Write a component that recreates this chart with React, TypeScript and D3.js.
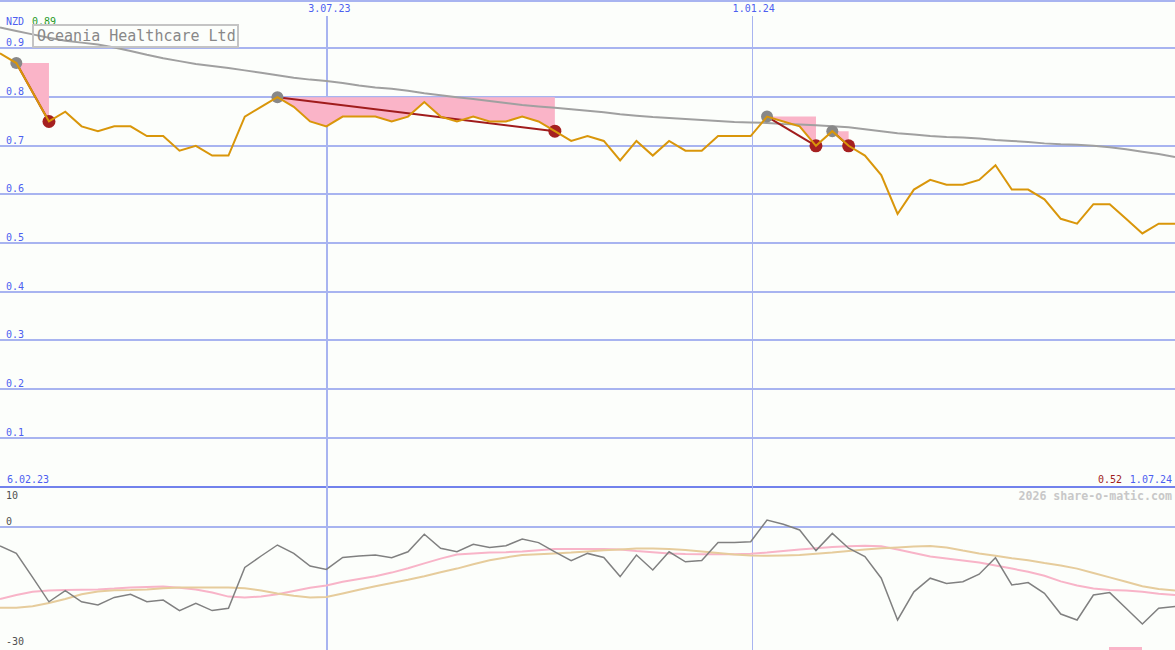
import React from "react";
import * as d3 from "d3";

// ---- data (weekly points, index 0..72) ----
const startLabel = "6.02.23";
const endLabel = "1.07.24";
const currency = "NZD";
const maxLabel = "0.89";
const minLabel = "0.52";
const title = "Oceania Healthcare Ltd";
const copyright = "2026 share-o-matic.com";

const dateMarkers = [
  { label: "3.07.23", index: 20, thick: true },
  { label: "1.01.24", index: 46, thick: false },
];

const price = [
  0.89, 0.87, 0.81, 0.75, 0.77, 0.74, 0.73, 0.74, 0.74, 0.72,
  0.72, 0.69, 0.70, 0.68, 0.68, 0.76, 0.78, 0.80, 0.78, 0.75,
  0.74, 0.76, 0.76, 0.76, 0.75, 0.76, 0.79, 0.76, 0.75, 0.76,
  0.75, 0.75, 0.76, 0.75, 0.73, 0.71, 0.72, 0.71, 0.67, 0.71,
  0.68, 0.71, 0.69, 0.69, 0.72, 0.72, 0.72, 0.76, 0.75, 0.74,
  0.70, 0.73, 0.70, 0.68, 0.64, 0.56, 0.61, 0.63, 0.62, 0.62,
  0.63, 0.66, 0.61, 0.61, 0.59, 0.55, 0.54, 0.58, 0.58, 0.55,
  0.52, 0.54, 0.54,
];

const longAverage = [
  0.943, 0.936, 0.929, 0.922, 0.916, 0.912, 0.908, 0.902, 0.895, 0.887,
  0.880, 0.874, 0.868, 0.864, 0.860, 0.855, 0.850, 0.845, 0.840, 0.836,
  0.833, 0.829, 0.824, 0.820, 0.817, 0.813, 0.808, 0.804, 0.800, 0.796,
  0.792, 0.788, 0.784, 0.781, 0.778, 0.775, 0.772, 0.769, 0.765, 0.762,
  0.759, 0.757, 0.755, 0.753, 0.751, 0.749, 0.748, 0.747, 0.745, 0.744,
  0.742, 0.740, 0.738, 0.734, 0.730, 0.726, 0.723, 0.720, 0.718, 0.717,
  0.715, 0.712, 0.710, 0.708, 0.705, 0.703, 0.702, 0.700, 0.697, 0.693,
  0.688, 0.683, 0.677,
];

// drawdown signals: from (gray marker) to (red marker)
const signals = [
  { from: 1, to: 3 },
  { from: 17, to: 34 },
  { from: 47, to: 50 },
  { from: 51, to: 52 },
];

const oscillator = [
  -4.75, -6.6, -12.6, -18.7, -15.9, -18.7, -19.5, -17.6, -16.8, -18.7,
  -18.25, -20.9, -19.1, -20.9, -20.3, -10.1, -7.25, -4.5, -6.6, -9.75,
  -10.6, -7.6, -7.25, -7.0, -7.7, -6.2, -1.8, -5.3, -6.2, -4.3,
  -5.1, -4.7, -3.0, -3.9, -6.2, -8.4, -6.6, -7.6, -12.4, -7.0,
  -10.75, -6.2, -8.7, -8.4, -3.9, -3.9, -3.7, 1.75, 0.7, -0.75,
  -5.9, -1.6, -5.3, -7.4, -12.8, -23.25, -16.2, -12.8, -14.1, -13.7,
  -11.8, -7.7, -14.5, -13.9, -16.6, -21.75, -23.25, -17.0, -16.4, -20.3,
  -24.25, -20.3, -19.9,
];

const oscPink = [
  -18, -17, -16.2, -15.9, -15.75, -15.7, -15.6, -15.4, -15.1, -15.0,
  -14.9, -15.2, -15.6, -16.4, -17.4, -17.6, -17.4, -16.8, -16.0, -15.2,
  -14.6, -13.7, -13.0, -12.3, -11.4, -10.3, -9.1, -7.9, -6.9, -6.6,
  -6.4, -6.3, -6.1, -5.8, -5.5, -5.5, -5.5, -5.5, -5.6, -6.0,
  -6.3, -6.6, -6.75, -6.8, -6.8, -6.8, -6.7, -6.4, -6.0, -5.6,
  -5.3, -5.0, -4.8, -4.7, -4.8, -5.6, -6.5, -7.4, -7.9, -8.4,
  -8.9, -9.6, -10.4, -11.2, -12.2, -13.6, -14.6, -15.4, -15.75, -15.9,
  -16.2, -16.7, -17,
];

const oscTan = [
  -20.2, -20.2, -19.8, -19.0, -18.0, -16.8, -16.1, -15.8, -15.75, -15.6,
  -15.3, -15.1, -15.1, -15.1, -15.1, -15.3, -15.9, -16.6, -17.2, -17.6,
  -17.5, -16.6, -15.7, -14.8, -14.0, -13.2, -12.3, -11.3, -10.4, -9.3,
  -8.3, -7.6, -7.0, -6.8, -6.6, -6.4, -6.1, -5.8, -5.6, -5.4,
  -5.4, -5.5, -5.75, -6.1, -6.5, -6.9, -7.1, -7.2, -7.1, -7.0,
  -6.7, -6.4, -6.0, -5.6, -5.3, -5.1, -4.9, -4.75, -5.1, -5.9,
  -6.6, -7.2, -7.8, -8.3, -9.0, -9.6, -10.4, -11.5, -12.6, -13.7,
  -14.8, -15.5, -15.9,
];

const mainTicks = [0.1, 0.2, 0.3, 0.4, 0.5, 0.6, 0.7, 0.8, 0.9];
const lowTicks = [10, 0, -30];

const W = 1175;
const H = 650;
const FONT = "'DejaVu Sans Mono', monospace";
const BLUE = "#4d5ff0";
const GRID = "#a8b4f0";

export default function App() {
  const x = d3.scaleLinear().domain([0, price.length - 1]).range([0, W]);
  const yMain = d3.scaleLinear().domain([0, 1]).range([486.5, -0.2]);
  const yLow = d3.scaleLinear().domain([-30, 10]).range([647, 487]);

  const mainLine = d3
    .line<number>()
    .x((_, i) => x(i))
    .y((d) => yMain(d));
  const lowLine = d3
    .line<number>()
    .x((_, i) => x(i))
    .y((d) => yLow(d));

  const idx = (a: number, b: number) => d3.range(a, b + 1);

  return (
    <svg
      width={W}
      height={H}
      style={{ position: "absolute", left: 0, top: 0, display: "block", background: "#fcfefb" }}
      fontFamily={FONT}
    >
      <rect x={0} y={0} width={W} height={H} fill="#fcfefb" />

      {/* main grid */}
      <line x1={0} x2={W} y1={1} y2={1} stroke={GRID} strokeWidth={2} shapeRendering="crispEdges" />
      {mainTicks.map((t) => (
        <line
          key={t}
          x1={0}
          x2={W}
          y1={Math.round(yMain(t))}
          y2={Math.round(yMain(t))}
          stroke={GRID}
          strokeWidth={2}
          shapeRendering="crispEdges"
        />
      ))}
      {/* lower grid */}
      <line
        x1={0}
        x2={W}
        y1={yLow(0)}
        y2={yLow(0)}
        stroke={GRID}
        strokeWidth={2}
        shapeRendering="crispEdges"
      />
      {/* separator */}
      <line x1={0} x2={W} y1={487} y2={487} stroke="#7282ec" strokeWidth={2} shapeRendering="crispEdges" />

      {/* date markers */}
      {dateMarkers.map((m) => (
        <g key={m.label}>
          <line
            x1={Math.round(x(m.index)) + 1}
            x2={Math.round(x(m.index)) + 1}
            y1={16}
            y2={H}
            stroke={GRID}
            strokeWidth={m.thick ? 2 : 1}
            shapeRendering="crispEdges"
          />
          <text x={x(m.index) + 3} y={12} fontSize={10} fill={BLUE} textAnchor="middle">
            {m.label}
          </text>
        </g>
      ))}

      {/* signal shading */}
      {signals.map((s, k) => {
        const level = price[s.from];
        const area = d3
          .area<number>()
          .x((i) => x(i))
          .y0(yMain(level))
          .y1((i) => yMain(price[i]));
        return <path key={k} d={area(idx(s.from, s.to)) || ""} fill="#fab4c8" />;
      })}

      {/* long average */}
      <path d={mainLine(longAverage) || ""} fill="none" stroke="#a0a0a0" strokeWidth={2} />

      {/* signal lines */}
      {signals.map((s, k) => (
        <line
          key={k}
          x1={x(s.from)}
          y1={yMain(price[s.from])}
          x2={x(s.to)}
          y2={yMain(price[s.to])}
          stroke="#a01c1c"
          strokeWidth={2}
        />
      ))}
      {signals.map((s, k) => (
        <g key={"m" + k}>
          <circle cx={x(s.from)} cy={yMain(price[s.from])} r={6} fill="#888888" />
          <circle cx={x(s.to)} cy={yMain(price[s.to])} r={6.5} fill="#a52020" />
        </g>
      ))}

      {/* price */}
      <path d={mainLine(price) || ""} fill="none" stroke="#d9960a" strokeWidth={2} />

      {/* main axis labels */}
      {mainTicks.map((t) => (
        <text key={t} x={6} y={Math.round(yMain(t)) - 2} fontSize={10} fill={BLUE}>
          {t.toFixed(1)}
        </text>
      ))}
      <text x={6} y={25} fontSize={10} fill={BLUE}>
        {currency}
      </text>
      <text x={32} y={25} fontSize={10} fill="#1f9a1f">
        {maxLabel}
      </text>

      {/* title box */}
      <rect x={33} y={25} width={205} height={22} fill="none" stroke="#c4c4c4" strokeWidth={2} />
      <text x={37} y={41} fontSize={15} fill="#888888">
        {title}
      </text>

      {/* bottom-of-main labels */}
      <text x={7} y={483} fontSize={10} fill={BLUE}>
        {startLabel}
      </text>
      <text x={1172} y={483} fontSize={10} fill={BLUE} textAnchor="end">
        {endLabel}
      </text>
      <text x={1122} y={483} fontSize={10} fill="#a01c1c" textAnchor="end">
        {minLabel}
      </text>
      <text x={1172} y={500} fontSize={11.6} fontWeight="bold" fill="#c8c8c8" textAnchor="end">
        {copyright}
      </text>

      {/* lower panel */}
      <path d={lowLine(oscPink) || ""} fill="none" stroke="#f8b4c8" strokeWidth={2} />
      <path d={lowLine(oscTan) || ""} fill="none" stroke="#e6cc9c" strokeWidth={2} />
      <path d={lowLine(oscillator) || ""} fill="none" stroke="#808080" strokeWidth={1.5} />
      {lowTicks.map((t) => (
        <text
          key={t}
          x={6}
          y={t === 10 ? yLow(t) + 12 : yLow(t) - 2}
          fontSize={10}
          fill="#505050"
        >
          {t}
        </text>
      ))}
      <rect x={1109} y={647} width={33} height={3} fill="#fab4c8" />
    </svg>
  );
}
